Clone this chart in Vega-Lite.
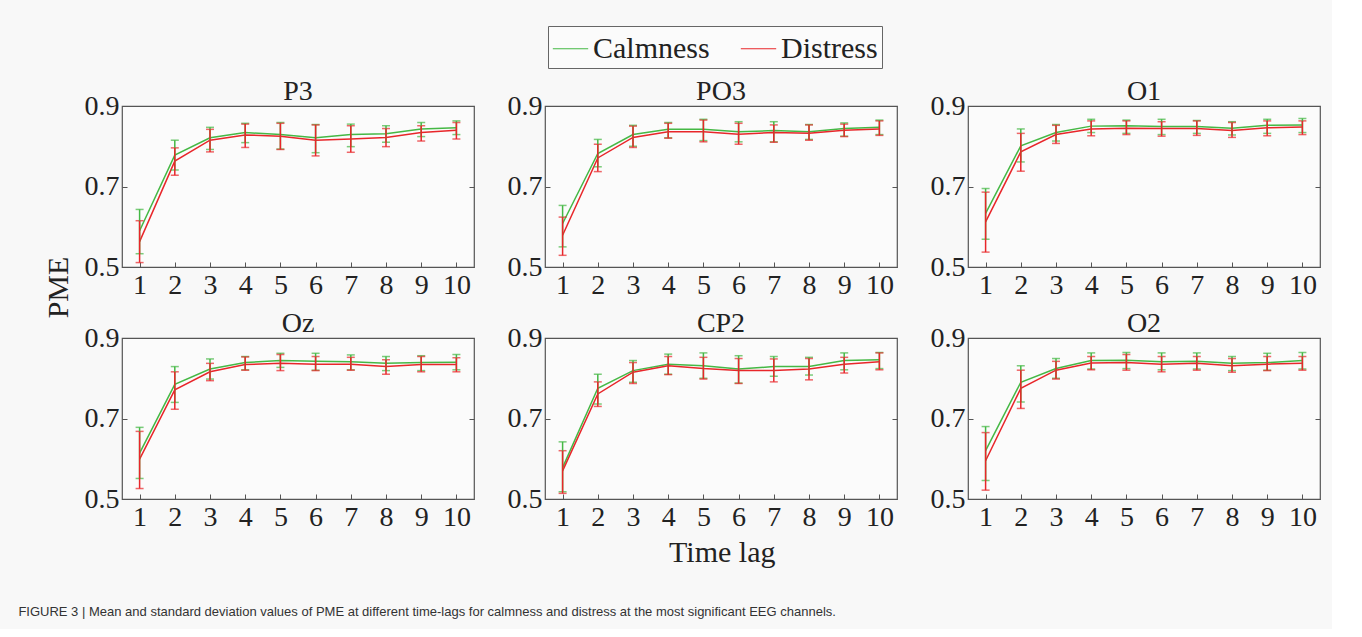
{
  "$schema": "https://vega.github.io/schema/vega-lite/v6.json",
  "background": "#f8f8f8",
  "padding": {"left": 18, "top": 25, "right": 10, "bottom": 10},
  "config": {
    "font": "Liberation Serif",
    "view": {"stroke": "#555555", "strokeWidth": 1.2, "fill": "#fbfbfb"},
    "axis": {"labelFont": "Liberation Serif", "labelFontSize": 28, "labelColor": "#222222", "domain": false, "grid": false, "tickColor": "#555555", "tickSize": -5, "labelPadding": 8, "title": null},
    "axisX": {"labelPadding": 9},
    "legend": {"labelFont": "Liberation Serif", "labelFontSize": 30, "labelColor": "#222222"},
    "title": {"font": "Liberation Serif", "fontWeight": "normal", "color": "#222222"}
  },
  "title": {"text": "FIGURE 3 | Mean and standard deviation values of PME at different time-lags for calmness and distress at the most significant EEG channels.", "orient": "bottom", "anchor": "start", "font": "Liberation Sans", "fontSize": 13, "fontWeight": "normal", "color": "#333333", "offset": 38, "dx": -26},
  "vconcat": [
    {
      "title": {"text": "PME", "orient": "left", "anchor": "middle", "font": "Liberation Serif", "fontSize": 30, "fontWeight": "normal", "color": "#222222", "offset": 9, "dx": 35},
      "vconcat": [
        {
          "title": {"text": "Time lag", "orient": "bottom", "anchor": "middle", "font": "Liberation Serif", "fontSize": 30, "fontWeight": "normal", "color": "#222222", "offset": 6, "dx": 20},
          "data": {"values": [
            {"c":"P3","l":1,"g":"Calmness","m":0.590,"lo":0.533,"hi":0.643},
            {"c":"P3","l":2,"g":"Calmness","m":0.778,"lo":0.741,"hi":0.815},
            {"c":"P3","l":3,"g":"Calmness","m":0.821,"lo":0.792,"hi":0.847},
            {"c":"P3","l":4,"g":"Calmness","m":0.834,"lo":0.809,"hi":0.857},
            {"c":"P3","l":5,"g":"Calmness","m":0.829,"lo":0.793,"hi":0.859},
            {"c":"P3","l":6,"g":"Calmness","m":0.821,"lo":0.784,"hi":0.854},
            {"c":"P3","l":7,"g":"Calmness","m":0.829,"lo":0.799,"hi":0.855},
            {"c":"P3","l":8,"g":"Calmness","m":0.831,"lo":0.810,"hi":0.851},
            {"c":"P3","l":9,"g":"Calmness","m":0.843,"lo":0.824,"hi":0.859},
            {"c":"P3","l":10,"g":"Calmness","m":0.846,"lo":0.829,"hi":0.863},
            {"c":"PO3","l":1,"g":"Calmness","m":0.608,"lo":0.550,"hi":0.653},
            {"c":"PO3","l":2,"g":"Calmness","m":0.782,"lo":0.749,"hi":0.817},
            {"c":"PO3","l":3,"g":"Calmness","m":0.829,"lo":0.800,"hi":0.852},
            {"c":"PO3","l":4,"g":"Calmness","m":0.842,"lo":0.821,"hi":0.859},
            {"c":"PO3","l":5,"g":"Calmness","m":0.842,"lo":0.814,"hi":0.867},
            {"c":"PO3","l":6,"g":"Calmness","m":0.836,"lo":0.811,"hi":0.861},
            {"c":"PO3","l":7,"g":"Calmness","m":0.839,"lo":0.811,"hi":0.861},
            {"c":"PO3","l":8,"g":"Calmness","m":0.836,"lo":0.817,"hi":0.854},
            {"c":"PO3","l":9,"g":"Calmness","m":0.844,"lo":0.825,"hi":0.858},
            {"c":"PO3","l":10,"g":"Calmness","m":0.847,"lo":0.829,"hi":0.865},
            {"c":"O1","l":1,"g":"Calmness","m":0.633,"lo":0.569,"hi":0.695},
            {"c":"O1","l":2,"g":"Calmness","m":0.801,"lo":0.761,"hi":0.843},
            {"c":"O1","l":3,"g":"Calmness","m":0.834,"lo":0.813,"hi":0.854},
            {"c":"O1","l":4,"g":"Calmness","m":0.850,"lo":0.834,"hi":0.867},
            {"c":"O1","l":5,"g":"Calmness","m":0.851,"lo":0.832,"hi":0.865},
            {"c":"O1","l":6,"g":"Calmness","m":0.849,"lo":0.829,"hi":0.867},
            {"c":"O1","l":7,"g":"Calmness","m":0.849,"lo":0.832,"hi":0.864},
            {"c":"O1","l":8,"g":"Calmness","m":0.845,"lo":0.828,"hi":0.861},
            {"c":"O1","l":9,"g":"Calmness","m":0.852,"lo":0.832,"hi":0.867},
            {"c":"O1","l":10,"g":"Calmness","m":0.853,"lo":0.834,"hi":0.869},
            {"c":"Oz","l":1,"g":"Calmness","m":0.614,"lo":0.551,"hi":0.678},
            {"c":"Oz","l":2,"g":"Calmness","m":0.785,"lo":0.740,"hi":0.829},
            {"c":"Oz","l":3,"g":"Calmness","m":0.823,"lo":0.798,"hi":0.848},
            {"c":"Oz","l":4,"g":"Calmness","m":0.839,"lo":0.821,"hi":0.854},
            {"c":"Oz","l":5,"g":"Calmness","m":0.844,"lo":0.827,"hi":0.862},
            {"c":"Oz","l":6,"g":"Calmness","m":0.842,"lo":0.820,"hi":0.862},
            {"c":"Oz","l":7,"g":"Calmness","m":0.841,"lo":0.821,"hi":0.858},
            {"c":"Oz","l":8,"g":"Calmness","m":0.837,"lo":0.819,"hi":0.854},
            {"c":"Oz","l":9,"g":"Calmness","m":0.839,"lo":0.819,"hi":0.856},
            {"c":"Oz","l":10,"g":"Calmness","m":0.840,"lo":0.821,"hi":0.859},
            {"c":"CP2","l":1,"g":"Calmness","m":0.578,"lo":0.518,"hi":0.642},
            {"c":"CP2","l":2,"g":"Calmness","m":0.775,"lo":0.736,"hi":0.810},
            {"c":"CP2","l":3,"g":"Calmness","m":0.819,"lo":0.790,"hi":0.844},
            {"c":"CP2","l":4,"g":"Calmness","m":0.835,"lo":0.810,"hi":0.860},
            {"c":"CP2","l":5,"g":"Calmness","m":0.831,"lo":0.800,"hi":0.863},
            {"c":"CP2","l":6,"g":"Calmness","m":0.823,"lo":0.788,"hi":0.856},
            {"c":"CP2","l":7,"g":"Calmness","m":0.829,"lo":0.805,"hi":0.854},
            {"c":"CP2","l":8,"g":"Calmness","m":0.829,"lo":0.808,"hi":0.852},
            {"c":"CP2","l":9,"g":"Calmness","m":0.844,"lo":0.821,"hi":0.863},
            {"c":"CP2","l":10,"g":"Calmness","m":0.846,"lo":0.824,"hi":0.864},
            {"c":"O2","l":1,"g":"Calmness","m":0.620,"lo":0.546,"hi":0.680},
            {"c":"O2","l":2,"g":"Calmness","m":0.790,"lo":0.741,"hi":0.831},
            {"c":"O2","l":3,"g":"Calmness","m":0.824,"lo":0.800,"hi":0.849},
            {"c":"O2","l":4,"g":"Calmness","m":0.844,"lo":0.823,"hi":0.863},
            {"c":"O2","l":5,"g":"Calmness","m":0.845,"lo":0.824,"hi":0.864},
            {"c":"O2","l":6,"g":"Calmness","m":0.841,"lo":0.821,"hi":0.863},
            {"c":"O2","l":7,"g":"Calmness","m":0.842,"lo":0.823,"hi":0.863},
            {"c":"O2","l":8,"g":"Calmness","m":0.837,"lo":0.819,"hi":0.854},
            {"c":"O2","l":9,"g":"Calmness","m":0.839,"lo":0.820,"hi":0.862},
            {"c":"O2","l":10,"g":"Calmness","m":0.844,"lo":0.823,"hi":0.864},
            {"c":"P3","l":1,"g":"Distress","m":0.563,"lo":0.511,"hi":0.615},
            {"c":"P3","l":2,"g":"Distress","m":0.763,"lo":0.728,"hi":0.796},
            {"c":"P3","l":3,"g":"Distress","m":0.815,"lo":0.786,"hi":0.842},
            {"c":"P3","l":4,"g":"Distress","m":0.828,"lo":0.797,"hi":0.855},
            {"c":"P3","l":5,"g":"Distress","m":0.825,"lo":0.792,"hi":0.857},
            {"c":"P3","l":6,"g":"Distress","m":0.815,"lo":0.776,"hi":0.853},
            {"c":"P3","l":7,"g":"Distress","m":0.818,"lo":0.785,"hi":0.851},
            {"c":"P3","l":8,"g":"Distress","m":0.822,"lo":0.799,"hi":0.844},
            {"c":"P3","l":9,"g":"Distress","m":0.834,"lo":0.813,"hi":0.851},
            {"c":"P3","l":10,"g":"Distress","m":0.840,"lo":0.818,"hi":0.859},
            {"c":"PO3","l":1,"g":"Distress","m":0.579,"lo":0.529,"hi":0.624},
            {"c":"PO3","l":2,"g":"Distress","m":0.771,"lo":0.737,"hi":0.805},
            {"c":"PO3","l":3,"g":"Distress","m":0.822,"lo":0.797,"hi":0.850},
            {"c":"PO3","l":4,"g":"Distress","m":0.836,"lo":0.820,"hi":0.857},
            {"c":"PO3","l":5,"g":"Distress","m":0.836,"lo":0.811,"hi":0.865},
            {"c":"PO3","l":6,"g":"Distress","m":0.830,"lo":0.805,"hi":0.857},
            {"c":"PO3","l":7,"g":"Distress","m":0.834,"lo":0.810,"hi":0.853},
            {"c":"PO3","l":8,"g":"Distress","m":0.832,"lo":0.815,"hi":0.853},
            {"c":"PO3","l":9,"g":"Distress","m":0.840,"lo":0.824,"hi":0.855},
            {"c":"PO3","l":10,"g":"Distress","m":0.843,"lo":0.827,"hi":0.863},
            {"c":"O1","l":1,"g":"Distress","m":0.612,"lo":0.537,"hi":0.686},
            {"c":"O1","l":2,"g":"Distress","m":0.786,"lo":0.738,"hi":0.832},
            {"c":"O1","l":3,"g":"Distress","m":0.829,"lo":0.807,"hi":0.852},
            {"c":"O1","l":4,"g":"Distress","m":0.843,"lo":0.826,"hi":0.863},
            {"c":"O1","l":5,"g":"Distress","m":0.845,"lo":0.829,"hi":0.863},
            {"c":"O1","l":6,"g":"Distress","m":0.844,"lo":0.825,"hi":0.861},
            {"c":"O1","l":7,"g":"Distress","m":0.844,"lo":0.827,"hi":0.863},
            {"c":"O1","l":8,"g":"Distress","m":0.839,"lo":0.822,"hi":0.859},
            {"c":"O1","l":9,"g":"Distress","m":0.846,"lo":0.826,"hi":0.863},
            {"c":"O1","l":10,"g":"Distress","m":0.848,"lo":0.829,"hi":0.863},
            {"c":"Oz","l":1,"g":"Distress","m":0.599,"lo":0.526,"hi":0.668},
            {"c":"Oz","l":2,"g":"Distress","m":0.771,"lo":0.723,"hi":0.816},
            {"c":"Oz","l":3,"g":"Distress","m":0.816,"lo":0.794,"hi":0.837},
            {"c":"Oz","l":4,"g":"Distress","m":0.834,"lo":0.820,"hi":0.853},
            {"c":"Oz","l":5,"g":"Distress","m":0.837,"lo":0.819,"hi":0.859},
            {"c":"Oz","l":6,"g":"Distress","m":0.835,"lo":0.819,"hi":0.854},
            {"c":"Oz","l":7,"g":"Distress","m":0.835,"lo":0.820,"hi":0.852},
            {"c":"Oz","l":8,"g":"Distress","m":0.829,"lo":0.810,"hi":0.846},
            {"c":"Oz","l":9,"g":"Distress","m":0.834,"lo":0.816,"hi":0.854},
            {"c":"Oz","l":10,"g":"Distress","m":0.834,"lo":0.816,"hi":0.851},
            {"c":"CP2","l":1,"g":"Distress","m":0.570,"lo":0.514,"hi":0.620},
            {"c":"CP2","l":2,"g":"Distress","m":0.761,"lo":0.730,"hi":0.791},
            {"c":"CP2","l":3,"g":"Distress","m":0.815,"lo":0.787,"hi":0.839},
            {"c":"CP2","l":4,"g":"Distress","m":0.831,"lo":0.809,"hi":0.854},
            {"c":"CP2","l":5,"g":"Distress","m":0.824,"lo":0.798,"hi":0.852},
            {"c":"CP2","l":6,"g":"Distress","m":0.819,"lo":0.787,"hi":0.849},
            {"c":"CP2","l":7,"g":"Distress","m":0.819,"lo":0.791,"hi":0.848},
            {"c":"CP2","l":8,"g":"Distress","m":0.823,"lo":0.796,"hi":0.849},
            {"c":"CP2","l":9,"g":"Distress","m":0.835,"lo":0.813,"hi":0.852},
            {"c":"CP2","l":10,"g":"Distress","m":0.841,"lo":0.821,"hi":0.863},
            {"c":"O2","l":1,"g":"Distress","m":0.595,"lo":0.522,"hi":0.665},
            {"c":"O2","l":2,"g":"Distress","m":0.775,"lo":0.725,"hi":0.820},
            {"c":"O2","l":3,"g":"Distress","m":0.820,"lo":0.798,"hi":0.842},
            {"c":"O2","l":4,"g":"Distress","m":0.838,"lo":0.821,"hi":0.854},
            {"c":"O2","l":5,"g":"Distress","m":0.839,"lo":0.820,"hi":0.859},
            {"c":"O2","l":6,"g":"Distress","m":0.835,"lo":0.816,"hi":0.854},
            {"c":"O2","l":7,"g":"Distress","m":0.837,"lo":0.820,"hi":0.854},
            {"c":"O2","l":8,"g":"Distress","m":0.831,"lo":0.815,"hi":0.849},
            {"c":"O2","l":9,"g":"Distress","m":0.835,"lo":0.819,"hi":0.854},
            {"c":"O2","l":10,"g":"Distress","m":0.837,"lo":0.820,"hi":0.854}
          ]},
          "facet": {"field": "c", "type": "nominal", "sort": ["P3", "PO3", "O1", "Oz", "CP2", "O2"], "title": null,
            "header": {"labelFont": "Liberation Serif", "labelFontSize": 28, "labelColor": "#222222", "labelPadding": -14}},
          "columns": 3,
          "spacing": {"row": 9, "column": 30},
          "resolve": {"axis": {"x": "independent", "y": "independent"}},
          "spec": {
            "width": 352,
            "height": 161,
            "encoding": {
              "x": {"field": "l", "type": "quantitative", "scale": {"domain": [0.5, 10.5], "nice": false, "zero": false},
                "axis": {"values": [1,2,3,4,5,6,7,8,9,10], "format": "d", "title": null}},
              "color": {"field": "g", "type": "nominal", "scale": {"domain": ["Calmness", "Distress"], "range": ["#45b845", "#e8262a"]},
                "legend": {"orient": "none", "legendX": 426, "legendY": -80, "direction": "horizontal", "title": null,
                  "labelFont": "Liberation Serif", "labelFontSize": 30, "labelColor": "#222222", "symbolType": "stroke", "symbolSize": 1250,
                  "symbolStrokeWidth": 1.2, "strokeColor": "#666666", "padding": 4, "columnPadding": 28, "labelOffset": 4, "fillColor": "#fbfbfb",
                  "labelLimit": 300,
                  "encode": {"labels": {"update": {"font": {"value": "Liberation Serif"}, "fontSize": {"value": 30}}}}}}
            },
            "layer": [
              {"mark": {"type": "line", "strokeWidth": 1.5},
                "encoding": {"y": {"field": "m", "type": "quantitative", "scale": {"domain": [0.5, 0.9], "nice": false, "zero": false},
                  "axis": {"values": [0.5, 0.7, 0.9], "format": ".1f", "title": null}}}},
              {"mark": {"type": "errorbar", "ticks": {"size": 8}, "thickness": 1.5},
                "encoding": {"y": {"field": "lo", "type": "quantitative", "scale": {"domain": [0.5, 0.9], "nice": false, "zero": false},
                  "axis": {"orient": "right", "values": [0.5, 0.7, 0.9], "labels": false, "title": null}}, "y2": {"field": "hi"}}}
            ],
            "resolve": {"scale": {"y": "independent"}, "axis": {"y": "independent"}}
          }
        }
      ]
    }
  ]
}
